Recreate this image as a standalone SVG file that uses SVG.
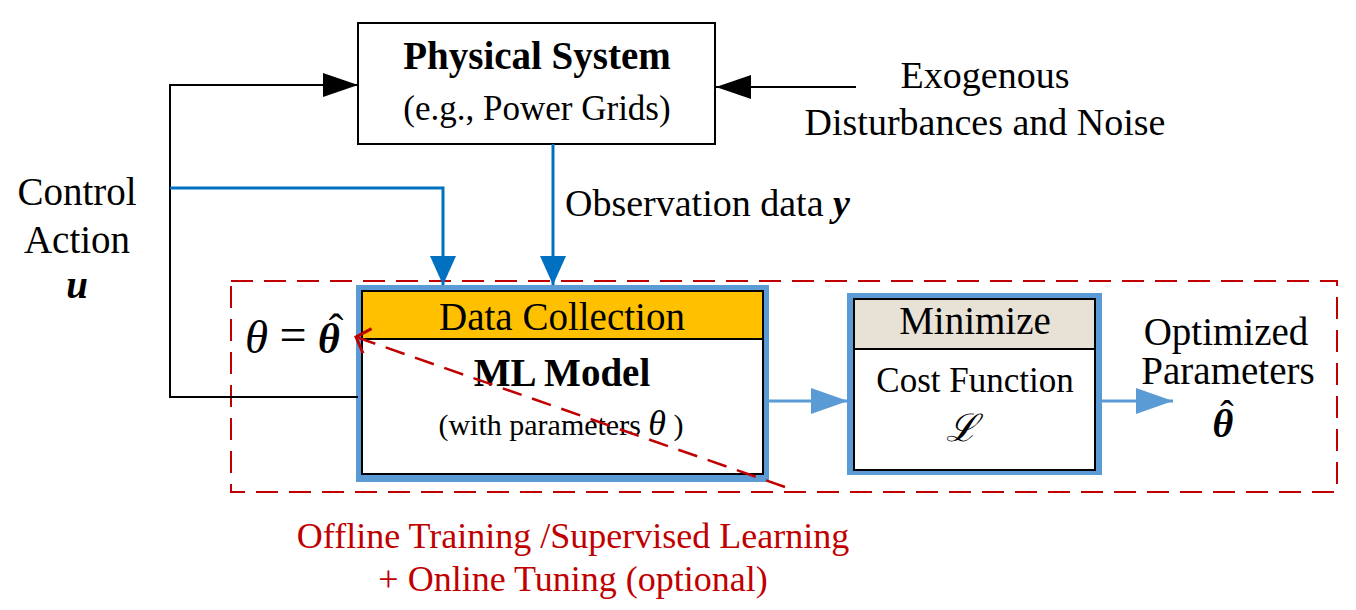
<svg xmlns="http://www.w3.org/2000/svg" width="1356" height="610" viewBox="0 0 1356 610">
<style>
text{font-family:"Liberation Serif","Times New Roman",serif;fill:#000}
.c{text-anchor:middle}
.b{font-weight:bold}
.i{font-style:italic}
.red{fill:#C00000}
.blk{stroke:#000;stroke-width:2;fill:none}
.dblue{stroke:#0070C0;stroke-width:3;fill:none}
.lblue{stroke:#5B9BD5;stroke-width:3;fill:none}
</style>
<defs>
<marker id="ab" markerUnits="userSpaceOnUse" markerWidth="35" markerHeight="24" refX="35" refY="12" orient="auto"><path d="M0,0 L35,12 L0,24 z" fill="#000"/></marker>
<marker id="adb" markerUnits="userSpaceOnUse" markerWidth="29" markerHeight="26" refX="29" refY="13" orient="auto"><path d="M0,0 L29,13 L0,26 z" fill="#0070C0"/></marker>
<marker id="alb" markerUnits="userSpaceOnUse" markerWidth="37" markerHeight="26" refX="37" refY="13" orient="auto"><path d="M0,0 L37,13 L0,26 z" fill="#5B9BD5"/></marker>
<marker id="ar" markerUnits="userSpaceOnUse" markerWidth="22" markerHeight="28" refX="19" refY="14" orient="auto"><path d="M7,1 L19,14 L7,27" fill="none" stroke="#C00000" stroke-width="3"/></marker>
</defs>

<g id="training-region">
<rect x="231" y="281" width="1106" height="211" fill="none" stroke="#C00000" stroke-width="2" stroke-dasharray="22,11"/>
</g>

<g id="physical-system">
<rect x="358" y="23" width="357" height="121" fill="#fff" stroke="#000" stroke-width="2"/>
<text class="c b" x="537" y="69" font-size="39">Physical System</text>
<text class="c" x="537" y="120" font-size="35">(e.g., Power Grids)</text>
</g>

<g id="disturbances">
<text class="c" x="985" y="88" font-size="38">Exogenous</text>
<text class="c" x="985" y="135" font-size="38">Disturbances and Noise</text>
</g>

<g id="control-action">
<text class="c" x="77" y="205" font-size="39">Control</text>
<text class="c" x="77" y="253" font-size="39">Action</text>
<text class="c b i" x="77" y="298" font-size="39">u</text>
</g>

<g id="ml-model">
<rect x="356" y="285" width="413" height="197" fill="#5B9BD5"/>
<rect x="362" y="291" width="401" height="183" fill="#fff" stroke="#000" stroke-width="2"/>
<rect x="362" y="291" width="401" height="48" fill="#FFC000" stroke="#000" stroke-width="2"/>
<text class="c" x="562" y="330" font-size="39">Data Collection</text>
<text class="c b" x="562" y="386" font-size="39">ML Model</text>
<text class="c" x="561" y="435" font-size="30">(with parameters <tspan class="i" font-size="36">θ</tspan> )</text>
</g>

<g id="theta-assign">
<text class="i" x="245" y="353" font-size="47">θ</text>
<text class="c" x="293" y="351" font-size="48">=</text>
<text class="b i" x="318" y="353" font-size="42">θ</text>
<text class="c" x="336" y="344" font-size="44">ˆ</text>
</g>

<g id="cost-function">
<rect x="847" y="293" width="255" height="182" fill="#5B9BD5"/>
<rect x="854" y="299" width="241" height="171" fill="#fff" stroke="#000" stroke-width="2"/>
<rect x="854" y="299" width="241" height="50" fill="#E7E1D6" stroke="#000" stroke-width="2"/>
<text class="c" x="975" y="334" font-size="39">Minimize</text>
<text class="c" x="975" y="392" font-size="35">Cost Function</text>
<text class="c i" x="962" y="441" font-size="38">ℒ</text>
</g>

<g id="optimized-params">
<text class="c" x="1226" y="345" font-size="39">Optimized</text>
<text class="c" x="1228" y="384" font-size="39">Parameters</text>
<text class="c b i" x="1223" y="437" font-size="40">θ</text>
<text class="c" x="1227" y="428" font-size="40">ˆ</text>
</g>

<g id="training-label">
<text class="c red" x="573" y="548" font-size="36">Offline Training /Supervised Learning</text>
<text class="c red" x="573" y="591" font-size="36">+ Online Tuning (optional)</text>
</g>

<g id="connectors">
<path class="blk" d="M358,397 H170 V85 H358" marker-end="url(#ab)"/>
<path class="blk" d="M856,87 H716" marker-end="url(#ab)"/>
<path class="dblue" d="M170,188 H443 V285" marker-end="url(#adb)"/>
<path class="dblue" d="M553,144 V285" marker-end="url(#adb)"/>
<path class="lblue" d="M769,401 H848" marker-end="url(#alb)"/>
<path class="lblue" d="M1102,401 H1173" marker-end="url(#alb)"/>
<path d="M785,487 L356,337" fill="none" stroke="#C00000" stroke-width="2.5" stroke-dasharray="20,11" marker-end="url(#ar)"/>
<text x="565" y="216" font-size="38">Observation data <tspan class="b i">y</tspan></text>
</g>
</svg>
